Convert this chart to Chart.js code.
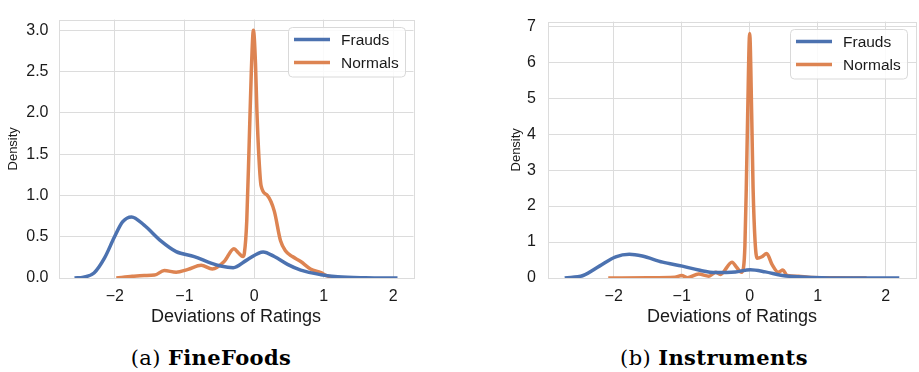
<!DOCTYPE html>
<html>
<head>
<meta charset="utf-8">
<script src="https://cdn.jsdelivr.net/npm/chart.js@4.4.1/dist/chart.umd.min.js"></script>
<style>
  body { margin: 0; background: #fff; width: 919px; height: 372px; position: relative; overflow: hidden; }
  canvas { position: absolute; top: 0; }
  #fineFoods { left: 0; }
  #instruments { left: 490px; }
  .cap { position: absolute; top: 346px; line-height: 24px; font-family: "DejaVu Serif", serif; font-size: 21px; letter-spacing: 0.4px; color: #000; white-space: nowrap; transform: translateX(-50%); }
</style>
</head>
<body>
<canvas id="fineFoods" width="430" height="330"></canvas>
<canvas id="instruments" width="429" height="330"></canvas>
<div class="cap" style="left:211px">(a) <b>FineFoods</b></div>
<div class="cap" style="left:714px">(b) <b>Instruments</b></div>
<script>
// tick values
const xTicks = [-2, -1, 0, 1, 2];
const fineFoodsYTicks = [0, 0.5, 1, 1.5, 2, 2.5, 3];
const instrumentsYTicks = [0, 1, 2, 3, 4, 5, 6, 7];

// density curves, [deviation, density]
const fineFoodsFrauds = [[-2.58,0],[-2.45,0.01],[-2.3,0.06],[-2.15,0.24],[-2.01,0.49],[-1.89,0.68],[-1.76,0.74],[-1.58,0.64],[-1.34,0.45],[-1.12,0.32],[-0.86,0.26],[-0.62,0.18],[-0.48,0.145],[-0.3,0.125],[-0.1,0.22],[0.13,0.315],[0.29,0.26],[0.48,0.165],[0.67,0.095],[0.96,0.04],[1.2,0.015],[1.6,0.003],[2.06,0]];
const fineFoodsNormals = [[-1.98,0],[-1.75,0.02],[-1.58,0.03],[-1.43,0.035],[-1.29,0.09],[-1.12,0.07],[-0.95,0.105],[-0.76,0.155],[-0.6,0.11],[-0.43,0.2],[-0.29,0.355],[-0.22,0.3],[-0.16,0.26],[-0.14,0.3],[-0.105,0.7],[-0.07,1.65],[-0.04,2.5],[-0.01,3.0],[0.02,2.6],[0.04,2.03],[0.07,1.45],[0.1,1.12],[0.19,1.0],[0.29,0.81],[0.38,0.45],[0.45,0.33],[0.55,0.26],[0.67,0.2],[0.81,0.11],[0.96,0.065],[1.05,0.025],[1.2,0.005],[1.39,0],[1.6,0]];
const instrumentsFrauds = [[-2.72,0],[-2.45,0.07],[-2.21,0.33],[-1.97,0.59],[-1.77,0.66],[-1.58,0.61],[-1.28,0.44],[-0.99,0.33],[-0.75,0.22],[-0.5,0.15],[-0.21,0.17],[0.01,0.23],[0.23,0.17],[0.48,0.07],[0.77,0.03],[1.06,0.01],[1.6,0],[2.2,0]];
const instrumentsNormals = [[-2.08,0],[-1.5,0.005],[-1.1,0.02],[-1.0,0.07],[-0.92,0.01],[-0.75,0.11],[-0.6,0.05],[-0.5,0.16],[-0.43,0.1],[-0.26,0.44],[-0.19,0.29],[-0.12,0.16],[-0.09,0.3],[-0.07,0.9],[-0.05,2.5],[-0.03,4.5],[0,6.8],[0.03,4.5],[0.05,2.5],[0.08,1.0],[0.11,0.55],[0.18,0.59],[0.25,0.68],[0.33,0.37],[0.42,0.16],[0.49,0.22],[0.55,0.07],[0.72,0.05],[0.86,0.02],[1.2,0.005],[1.72,0]];

const BLUE = '#4c72b0';
const ORANGE = '#dd8452';
const GRID = '#dcdcdc';
const TEXT = '#1a1a1a';
const SANS = '"Liberation Sans", Arial, sans-serif';

// frame on all four sides, like the matplotlib spines
const frame = {
  id: 'frame',
  beforeDatasetsDraw(chart) {
    const { ctx, chartArea: ca } = chart;
    ctx.save();
    ctx.strokeStyle = GRID;
    ctx.lineWidth = 1;
    ctx.strokeRect(Math.round(ca.left) + 0.5, Math.round(ca.top) + 0.5,
      Math.round(ca.right - ca.left), Math.round(ca.bottom - ca.top));
    ctx.restore();
  }
};

// legend box in the upper right corner of the plot
const cornerLegend = {
  id: 'cornerLegend',
  afterDatasetsDraw(chart) {
    const { ctx, chartArea: ca } = chart;
    const w = 117, h = 49.5;
    const x = Math.round(ca.right - 9 - w), y = Math.round(ca.top + 7);
    ctx.save();
    ctx.beginPath();
    ctx.roundRect(x + 0.5, y + 0.5, w, h, 4);
    ctx.fillStyle = 'rgba(255,255,255,0.85)';
    ctx.fill();
    ctx.strokeStyle = '#d9d9d9';
    ctx.lineWidth = 1;
    ctx.stroke();
    ctx.font = '15.5px ' + SANS;
    ctx.textBaseline = 'middle';
    chart.data.datasets.forEach((ds, i) => {
      const ly = y + 12.5 + i * 23;
      ctx.strokeStyle = ds.borderColor;
      ctx.lineWidth = 3.5;
      ctx.beginPath();
      ctx.moveTo(x + 6, ly);
      ctx.lineTo(x + 42, ly);
      ctx.stroke();
      ctx.fillStyle = TEXT;
      ctx.fillText(ds.label, x + 53, ly + 1);
    });
    ctx.restore();
  }
};

function fmtMinus(v) {
  return String(v).replace('-', '\u2212');
}

function densityChart(id, frauds, normals, s) {
  const ctx = document.getElementById(id).getContext('2d');
  const line = (label, pts, color) => ({
    label: label,
    data: pts.map(p => ({ x: p[0], y: p[1] })),
    borderColor: color,
    borderWidth: 3.5,
    pointRadius: 0,
    fill: false,
    cubicInterpolationMode: 'monotone',
    clip: 0
  });
  return new Chart(ctx, {
    type: 'line',
    data: {
      datasets: [
        line('Frauds', frauds, BLUE),
        line('Normals', normals, ORANGE)
      ]
    },
    options: {
      responsive: false,
      animation: false,
      layout: { padding: { left: 0, right: s.rightPad, top: 4, bottom: 2 } },
      plugins: { legend: { display: false }, tooltip: { enabled: false } },
      scales: {
        x: {
          type: 'linear',
          min: s.xMin, max: s.xMax,
          afterBuildTicks: sc => { sc.ticks = xTicks.map(v => ({ value: v })); },
          afterFit: sc => { sc.height = 50; },
          grid: { color: GRID, lineWidth: 1, drawTicks: false },
          border: { display: false },
          ticks: {
            autoSkip: false, maxRotation: 0, padding: 9,
            color: TEXT, font: { family: SANS, size: 16 },
            callback: v => fmtMinus(v)
          },
          title: {
            display: true, text: 'Deviations of Ratings',
            color: TEXT, font: { family: SANS, size: 18 }, padding: 0
          }
        },
        y: {
          min: 0, max: s.yMax,
          afterBuildTicks: sc => { sc.ticks = s.yTicks.map(v => ({ value: v })); },
          afterFit: sc => { sc.width = s.yWidth; },
          grid: { color: GRID, lineWidth: 1, drawTicks: false },
          border: { display: false },
          ticks: {
            autoSkip: false, padding: s.yTickPad,
            color: TEXT, font: { family: SANS, size: 16 },
            callback: v => v.toFixed(s.decimals)
          },
          title: {
            display: true, text: 'Density',
            color: TEXT, font: { family: SANS, size: 13 },
            padding: { top: s.yTitlePad, bottom: 0 }
          }
        }
      }
    },
    plugins: [frame, cornerLegend]
  });
}

densityChart('fineFoods', fineFoodsFrauds, fineFoodsNormals, {
  xMin: -2.81, xMax: 2.29, yMax: 3.13, yTicks: fineFoodsYTicks, decimals: 1,
  yWidth: 58.5, rightPad: 16.5, yTickPad: 10, yTitlePad: 5.2
});
densityChart('instruments', instrumentsFrauds, instrumentsNormals, {
  xMin: -2.966, xMax: 2.446, yMax: 7.13, yTicks: instrumentsYTicks, decimals: 0,
  yWidth: 58, rightPad: 3, yTickPad: 12, yTitlePad: 18.9
});
</script>
</body>
</html>
